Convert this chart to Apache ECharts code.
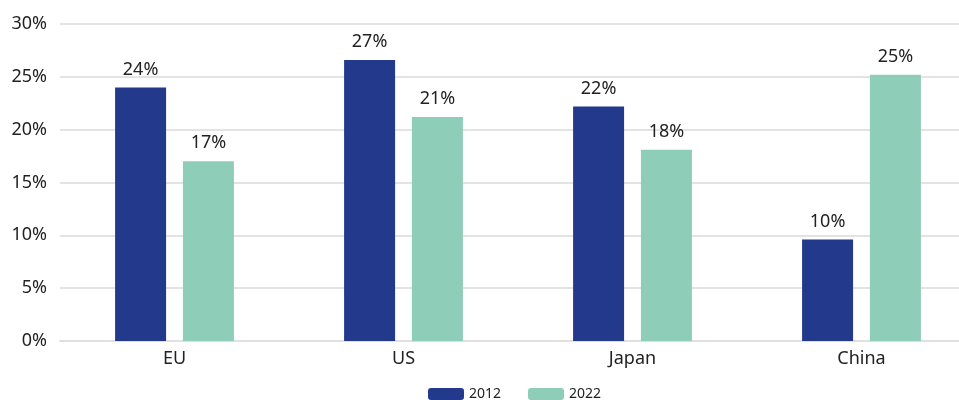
<!DOCTYPE html>
<html>
<head>
<meta charset="utf-8">
<script src="https://cdn.jsdelivr.net/npm/echarts@6/dist/echarts.min.js"></script>
<style>
    html, body { margin: 0; padding: 0; background: #fff; }
    #chart { width: 959px; height: 400px; }
</style>
</head>
<body>
<div id="chart"></div>
<script>
    // values (percent)
    var regions = ['EU', 'US', 'Japan', 'China'];
    var share2012 = [24.0, 26.6, 22.2, 9.6];
    var share2022 = [17.0, 21.2, 18.1, 25.2];
    var seriesNames = ['2012', '2022'];

    var chart = echarts.init(document.getElementById('chart'));

    function pctLabel(p) {
        return Math.round(p.value) + '%';
    }

    var option = {
        animation: false,
        textStyle: { fontFamily: '"Noto Sans", sans-serif' },
        grid: {
            left: 60,
            width: 916,
            top: 24,
            bottom: 59,
            outerBoundsMode: 'none'
        },
        legend: {
            data: seriesNames,
            left: 423,
            top: 382,
            itemWidth: 36,
            itemHeight: 12,
            itemGap: 27,
            textStyle: { fontSize: 14, color: '#222' }
        },
        xAxis: {
            type: 'category',
            data: regions,
            axisTick: { show: false },
            axisLine: { lineStyle: { color: '#e0e0e0', width: 2 } },
            axisLabel: { color: '#222', fontSize: 18, margin: 9 }
        },
        yAxis: {
            type: 'value',
            min: 0,
            max: 30,
            interval: 5,
            axisLine: { show: false },
            axisTick: { show: false },
            axisLabel: { color: '#222', fontSize: 18, margin: 13, formatter: '{value}%' },
            splitLine: { lineStyle: { color: '#e3e3e3', width: 2 } }
        },
        series: [
            {
                name: seriesNames[0],
                type: 'bar',
                data: share2012,
                barWidth: 51,
                barGap: '33%',
                itemStyle: { color: '#23398B' },
                label: { show: true, position: 'top', distance: 9, fontSize: 18, color: '#222', formatter: pctLabel }
            },
            {
                name: seriesNames[1],
                type: 'bar',
                data: share2022,
                barWidth: 51,
                barGap: '33%',
                itemStyle: { color: '#8ECDB8' },
                label: { show: true, position: 'top', distance: 9, fontSize: 18, color: '#222', formatter: pctLabel }
            }
        ]
    };

    chart.setOption(option);
</script>
</body>
</html>
